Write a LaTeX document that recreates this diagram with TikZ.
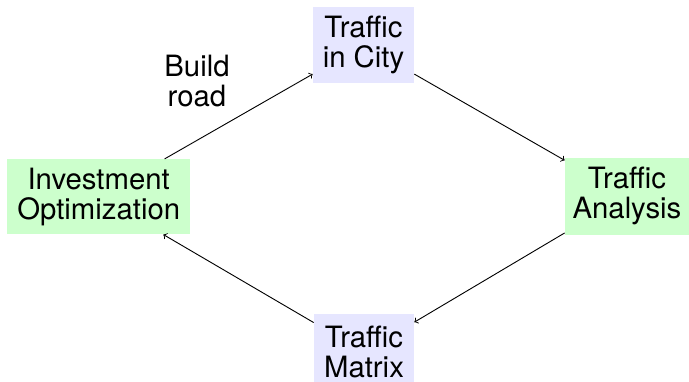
\documentclass[tikz,border=0pt]{standalone}
\usepackage{fontspec}
\setmainfont{TeX Gyre Heros}
\definecolor{boxgreen}{RGB}{204,255,204}
\definecolor{boxblue}{RGB}{230,230,255}
\begin{document}
\begin{tikzpicture}[x=0.6pt,y=-0.6pt,
  every node/.style={font=\fontsize{17.6}{17.8}\selectfont, align=center, inner sep=0pt},
  greenbox/.style={fill=boxgreen},
  bluebox/.style={fill=boxblue},
  conn/.style={->, line width=0.55pt}]
\useasboundingbox (0,0) rectangle (689,381);
\node[bluebox, minimum width=101*0.6pt, minimum height=76*0.6pt] (city) at (363.5,45) {Traffic\\in City};
\node[greenbox, minimum width=124*0.6pt, minimum height=77*0.6pt] (analysis) at (627,196) {Traffic\\Analysis};
\node[bluebox, minimum width=100*0.6pt, minimum height=76*0.6pt] (matrix) at (364,352) {Traffic\\Matrix};
\node[greenbox, minimum width=183*0.6pt, minimum height=75*0.6pt] (invest) at (98.7,196.7) {Investment\\Optimization};
\node (build) at (197,81) {Build\\road};
\draw[conn] (city) -- (analysis);
\draw[conn] (analysis) -- (matrix);
\draw[conn] (matrix) -- (invest);
\draw[conn] (invest) -- (city);
\end{tikzpicture}
\end{document}
